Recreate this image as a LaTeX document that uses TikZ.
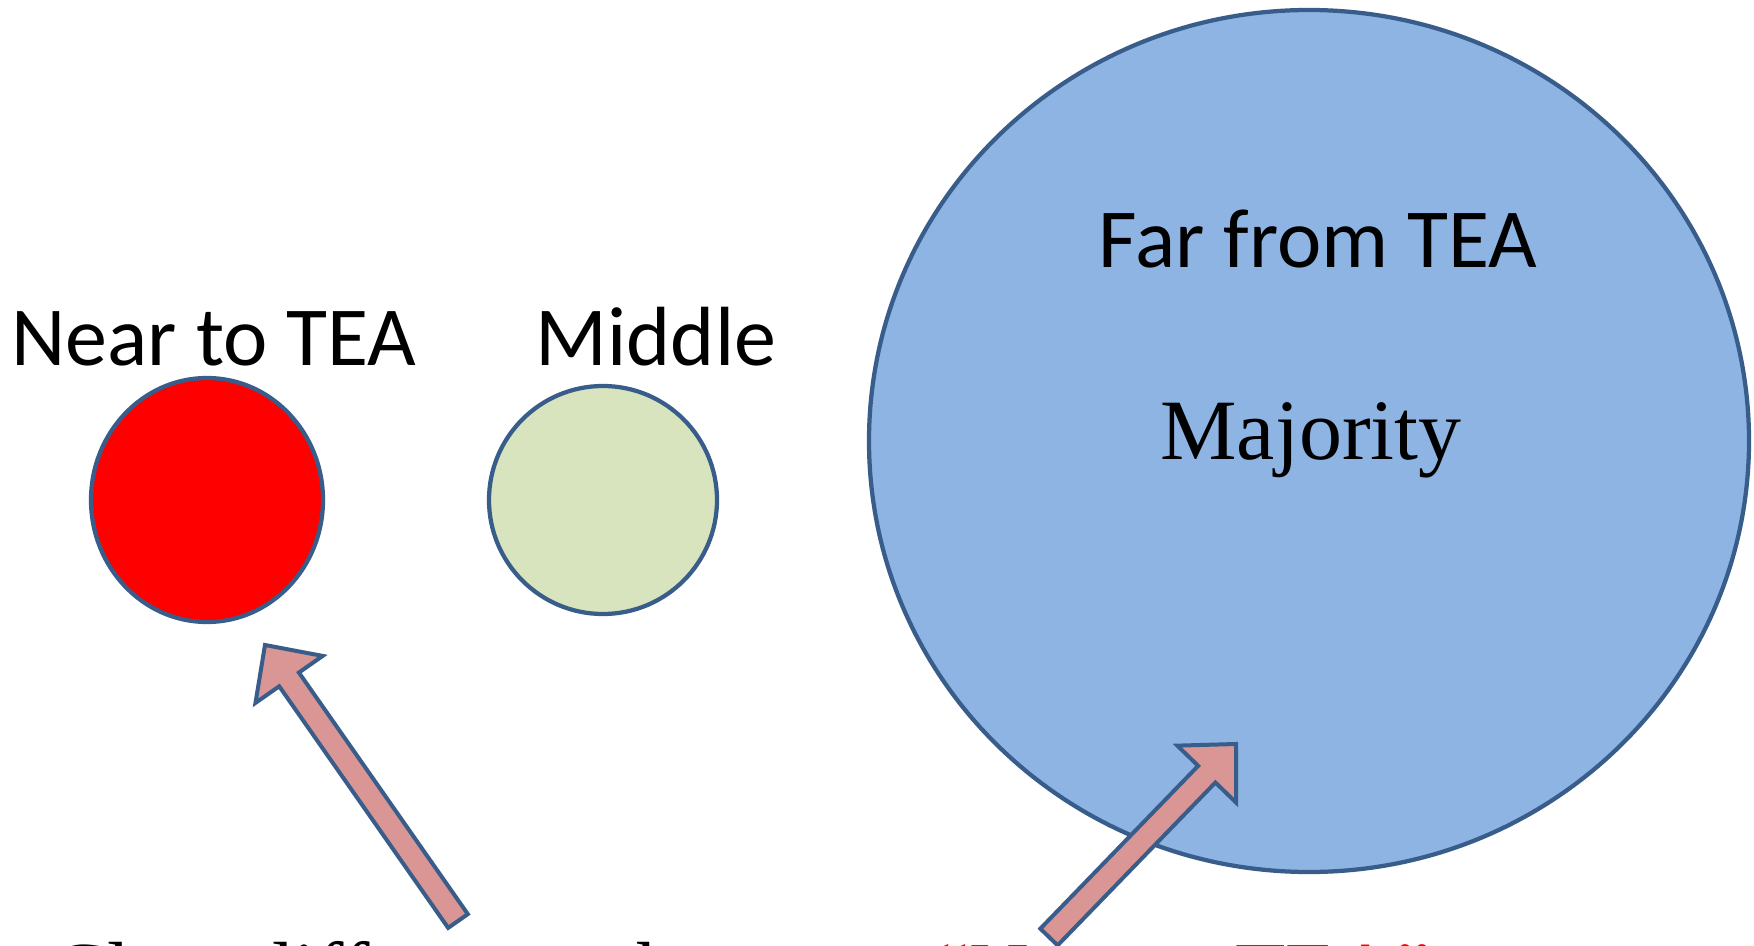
\documentclass[tikz,border=0pt]{standalone}
\usepackage{fontspec}
\newfontfamily\calfont{Carlito}
\newfontfamily\serfont{Liberation Serif}
\usetikzlibrary{shapes.geometric,calc}
\definecolor{edgeblue}{HTML}{385D8A}
\definecolor{nearred}{HTML}{FF0000}
\definecolor{midgreen}{HTML}{D7E4BD}
\definecolor{farblue}{HTML}{8EB4E3}
\definecolor{arrowpink}{HTML}{D99694}
\tikzset{
  blob/.style={ellipse, draw=edgeblue, line width=1.7pt, inner sep=0pt},
  lbl/.style={font=\calfont\fontsize{33.6pt}{36pt}\selectfont, anchor=base, inner sep=0pt},
  blockarrow/.style={draw=edgeblue, fill=arrowpink, line width=1.6pt, line join=miter}
}
\newcommand{\blockarr}[2]{%
  \coordinate (#1-b) at ($(#2)!16.8pt!(#1)$);
  \draw[blockarrow]
    ($(#1)!4.8pt!90:(#2)$) -- ($(#1-b)!4.8pt!-90:(#1)$) -- ($(#1-b)!16.4pt!-90:(#1)$) --
    (#2) -- ($(#1-b)!16.4pt!90:(#1)$) -- ($(#1-b)!4.8pt!90:(#1)$) --
    ($(#1)!4.8pt!-90:(#2)$) -- cycle;}
\begin{document}
\begin{tikzpicture}[x=0.4pt,y=-0.4pt]
\useasboundingbox (0,0) rectangle (1754,946);
\clip (0,0) rectangle (1754,946);
\fill[white] (0,0) rectangle (1754,946);
% circles
\node[blob, fill=nearred, minimum width=92.8pt, minimum height=97.6pt] (near) at (207,500) {};
\node[blob, fill=midgreen, minimum width=91.2pt, minimum height=91.2pt] (mid) at (603,500) {};
\node[blob, fill=farblue, minimum width=352pt, minimum height=344.8pt] (far) at (1309,441) {};
% labels
\node[lbl] (nearlbl) at (214,365) {Near to TEA};
\node[lbl] (midlbl) at (656,365) {Middle};
\node[lbl] (farlbl) at (1318,268) {Far from TEA};
\node[font=\serfont\fontsize{34.4pt}{38pt}\selectfont, anchor=base, inner sep=0pt] (maj) at (1311,459) {Majority};
% bottom text (cut off by the lower edge, as in the reference)
\node[font=\serfont\fontsize{33pt}{36pt}\selectfont, anchor=base west, inner sep=0pt] (caption) at (52,999)
  {Class differences between \textcolor{nearred}{“Near to TEA”}};
% arrows
\coordinate (tailA) at (458,921);
\coordinate (tipA) at (265,645);
\coordinate (tailB) at (1049,937);
\coordinate (tipB) at (1236,744);
\blockarr{tailA}{tipA}
\blockarr{tailB}{tipB}
\end{tikzpicture}
\end{document}
